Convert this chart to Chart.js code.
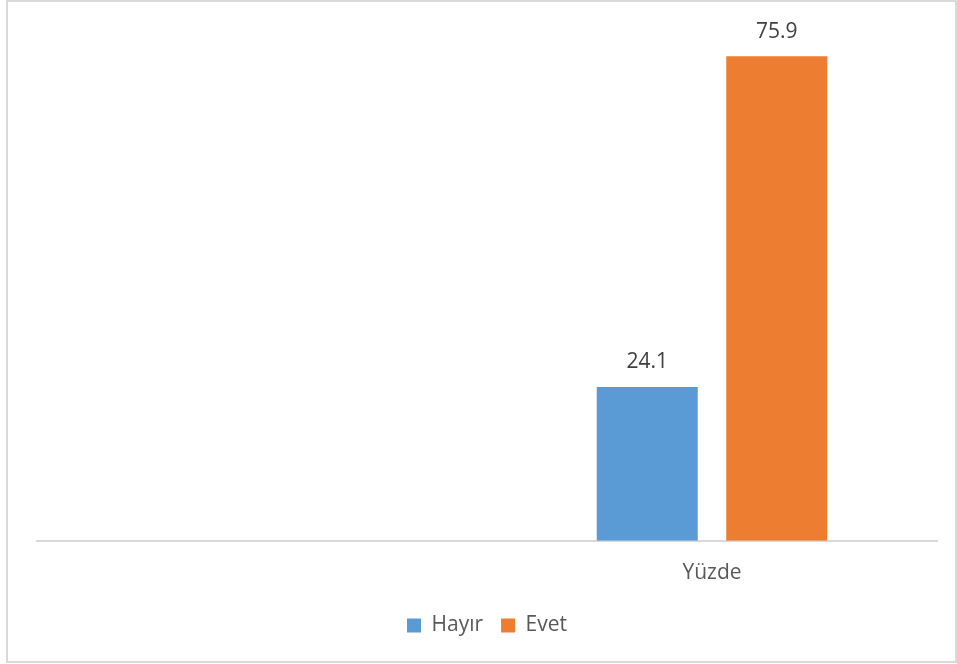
<!DOCTYPE html>
<html>
<head>
<meta charset="utf-8">
<script src="https://cdn.jsdelivr.net/npm/chart.js@4/dist/chart.umd.min.js"></script>
<style>
  html, body { margin: 0; padding: 0; background: #fff; }
  #wrap { width: 957px; height: 664px; position: relative; }
</style>
</head>
<body>
<div id="wrap"><canvas id="chart"></canvas></div>
<script>
const categories = ["", "Yüzde"];
const hayirValues = [null, 24.1];
const evetValues = [null, 75.9];
const seriesNames = ["Hayır", "Evet"];
const seriesColors = ["#5B9BD5", "#ED7D31"];

const fontFamily = "'Open Sans', 'Noto Sans', sans-serif";

// Helpers
const getById = (id) => document.getElementById(id);

// frame round the whole chart, like the Excel chart border
const framePlugin = {
  id: "frame",
  beforeDraw(chart) {
    const ctx = chart.ctx;
    ctx.save();
    ctx.fillStyle = "#fff";
    ctx.fillRect(0, 0, chart.width, chart.height);
    ctx.strokeStyle = "#d9d9d9";
    ctx.lineWidth = 2;
    ctx.strokeRect(7, 1, 949, 661);
    ctx.restore();
  }
};

// value labels above the bars
const valueLabels = {
  id: "valueLabels",
  afterDatasetsDraw(chart) {
    const ctx = chart.ctx;
    ctx.save();
    ctx.font = "21px " + fontFamily;
    ctx.fillStyle = "#404040";
    ctx.textAlign = "center";
    ctx.textBaseline = "alphabetic";
    chart.data.datasets.forEach((ds, i) => {
      chart.getDatasetMeta(i).data.forEach((bar, j) => {
        const v = ds.data[j];
        if (v === null || v === undefined) return;
        ctx.fillText(v.toFixed(1), bar.x, bar.y - 18.5);
      });
    });
    ctx.restore();
  }
};

function barDataset(name, values, color) {
  return {
    label: name,
    data: values,
    backgroundColor: color,
    borderWidth: 0,
    categoryPercentage: 0.5756,
    barPercentage: 0.78,
  };
}

new Chart(getById("chart").getContext("2d"), {
  type: "bar",
  data: {
    labels: categories,
    datasets: [
      barDataset(seriesNames[0], hayirValues, seriesColors[0]),
      barDataset(seriesNames[1], evetValues, seriesColors[1]),
    ],
  },
  options: {
    responsive: true,
    maintainAspectRatio: false,
    animation: false,
    layout: {
      padding: { top: 30, left: 37, right: 20, bottom: 18 },
    },
    plugins: {
      legend: {
        position: "bottom",
        labels: {
          boxWidth: 14,
          boxHeight: 14,
          padding: 18,
          color: "#595959",
          font: { family: fontFamily, size: 21 },
        },
      },
      tooltip: { enabled: false },
    },
    scales: {
      x: {
        grid: { display: false, drawTicks: false },
        border: { display: true, color: "#d9d9d9", width: 2 },
        ticks: {
          color: "#595959",
          padding: 20,
          font: { family: fontFamily, size: 21 },
        },
        afterFit(scale) {
          scale.height -= 9;
        },
      },
      y: {
        display: false,
        min: 0,
        max: 80,
      },
    },
  },
  plugins: [framePlugin, valueLabels],
});
</script>
</body>
</html>
